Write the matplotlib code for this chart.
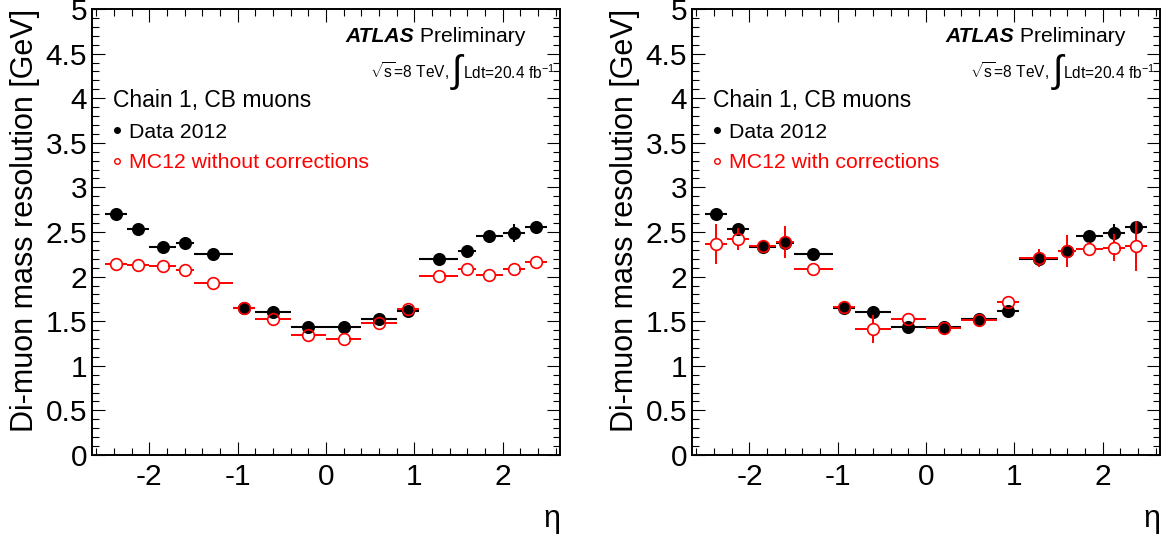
import numpy as np
import matplotlib
matplotlib.use('Agg')
import matplotlib.pyplot as plt
from matplotlib.lines import Line2D
from matplotlib.ticker import MultipleLocator, FuncFormatter

plt.rcParams['font.family'] = ['Liberation Sans', 'DejaVu Sans']
plt.rcParams['axes.unicode_minus'] = False
plt.rcParams['mathtext.fontset'] = 'custom'
plt.rcParams['mathtext.rm'] = 'Liberation Sans'
plt.rcParams['mathtext.it'] = 'Liberation Sans:italic'

# eta bin edges
eta_edges = [-2.5, -2.25, -2.0, -1.7, -1.5, -1.05, -0.8, -0.4, 0.0,
             0.4, 0.8, 1.05, 1.5, 1.7, 2.0, 2.25, 2.5]

# di-muon mass resolution [GeV], data 2012
data_res = [2.70, 2.535, 2.33, 2.38, 2.25, 1.65, 1.60, 1.43, 1.435, 1.53,
            1.615, 2.195, 2.285, 2.46, 2.49, 2.56]
data_err = [0.03, 0.03, 0.03, 0.04, 0.03, 0.02, 0.02, 0.02, 0.02, 0.02,
            0.02, 0.03, 0.04, 0.04, 0.10, 0.06]

# MC12 without corrections
mc_raw = [2.14, 2.125, 2.115, 2.07, 1.93, 1.65, 1.52, 1.34, 1.30, 1.475,
          1.635, 2.01, 2.085, 2.02, 2.09, 2.16]
mc_raw_err = [0.02] * 16

# MC12 with corrections
mc_corr = [2.365, 2.42, 2.34, 2.385, 2.09, 1.66, 1.41, 1.52, 1.425, 1.51,
           1.71, 2.205, 2.285, 2.31, 2.325, 2.345]
mc_corr_err = [0.22, 0.12, 0.07, 0.18, 0.04, 0.04, 0.16, 0.06, 0.03, 0.03,
               0.065, 0.10, 0.18, 0.08, 0.15, 0.28]

edges = np.array(eta_edges)
eta = (edges[:-1] + edges[1:]) / 2
eta_w = (edges[1:] - edges[:-1]) / 2

MS = 8.4
fig = plt.figure(figsize=(11.69, 5.38), dpi=100)


def open_errors(ax, x, xerr, y, yerr, color):
    # ROOT style: error lines stop at the edge of the marker
    r_px = MS * fig.dpi / 72 / 2
    x0, x1 = ax.get_xlim()
    y0, y1 = ax.get_ylim()
    rx = r_px * (x1 - x0) / ax.bbox.width
    ry = r_px * (y1 - y0) / ax.bbox.height
    x = np.asarray(x); y = np.asarray(y)
    xerr = np.asarray(xerr); yerr = np.asarray(yerr)
    ax.hlines(y, x - xerr, x - rx, color=color, lw=1.4, zorder=4)
    ax.hlines(y, x + rx, x + xerr, color=color, lw=1.4, zorder=4)
    big = yerr > ry
    ax.vlines(x[big], y[big] + ry, y[big] + yerr[big], color=color, lw=1.4, zorder=4)
    ax.vlines(x[big], y[big] - yerr[big], y[big] - ry, color=color, lw=1.4, zorder=4)


def panel(left, mc, mc_err, mc_label):
    ax = fig.add_axes([left, 0.1543, 0.4003, 0.829])
    ax.set_xlim(-2.65, 2.65)
    ax.set_ylim(0, 5)

    ax.errorbar(eta, data_res, xerr=eta_w, yerr=data_err, fmt='o', color='black',
                ms=MS, elinewidth=1.5, capsize=0, zorder=3)
    open_errors(ax, eta, eta_w, mc, mc_err, 'red')
    ax.plot(eta, mc, 'o', ms=MS, mfc='none', mec='red', mew=1.2, zorder=5)

    ax.xaxis.set_major_locator(MultipleLocator(1))
    ax.xaxis.set_minor_locator(MultipleLocator(0.2))
    ax.yaxis.set_major_locator(MultipleLocator(0.5))
    ax.yaxis.set_minor_locator(MultipleLocator(0.1))
    ax.yaxis.set_major_formatter(FuncFormatter(lambda v, p: '%g' % v))
    ax.tick_params(which='both', direction='in', top=True, right=True,
                   width=0.8, labelsize=21.5)
    ax.tick_params(which='major', length=9.5)
    ax.tick_params(which='minor', length=5)
    ax.tick_params(axis='x', pad=6)
    ax.tick_params(axis='y', pad=3.5)
    for s in ax.spines.values():
        s.set_linewidth(1.4)

    ax.set_ylabel('Di-muon mass resolution [GeV]', fontsize=22, loc='top', labelpad=4)
    ax.set_xlabel('η', fontsize=22, loc='right', labelpad=9)

    t = ax.text(0.541, 0.926, 'ATLAS', fontsize=15.2, weight='bold', style='italic',
                transform=ax.transAxes)
    ax.annotate(' Preliminary', xy=(1, 0), xycoords=t, va='bottom', fontsize=15.2)
    lumi = ax.text(0.99, 0.843, 'Ldt=20.4 fb$^{-1}$', fontsize=11.2, ha='right',
                   transform=ax.transAxes)
    ax.annotate('∫', xy=(0, 0), xycoords=lumi, xytext=(-0.5, -6),
                textcoords='offset points', ha='right', va='bottom', fontsize=27)
    ax.annotate(r'$\sqrt{\mathrm{s}}$=8 TeV, ', xy=(0, 0), xycoords=lumi,
                xytext=(-9.5, 0), textcoords='offset points', ha='right',
                va='bottom', fontsize=11.2)

    ax.text(0.045, 0.78, 'Chain 1, CB muons', fontsize=16.5, transform=ax.transAxes)

    handles = [Line2D([], [], marker='o', ls='none', color='black', ms=4),
               Line2D([], [], marker='o', ls='none', mfc='none', mec='red', ms=4)]
    leg = ax.legend(handles, ['Data 2012', mc_label], loc='upper left',
                    bbox_to_anchor=(0.04, 0.745), frameon=False, fontsize=15.3,
                    handlelength=0.6, handletextpad=0.25, labelspacing=0.55,
                    borderpad=0, borderaxespad=0)
    for txt, c in zip(leg.get_texts(), ['black', 'red']):
        txt.set_color(c)
    return ax


panel(0.0787, mc_raw, mc_raw_err, 'MC12 without corrections')
panel(0.5920, mc_corr, mc_corr_err, 'MC12 with corrections')

fig.savefig('out.png', dpi=100)
